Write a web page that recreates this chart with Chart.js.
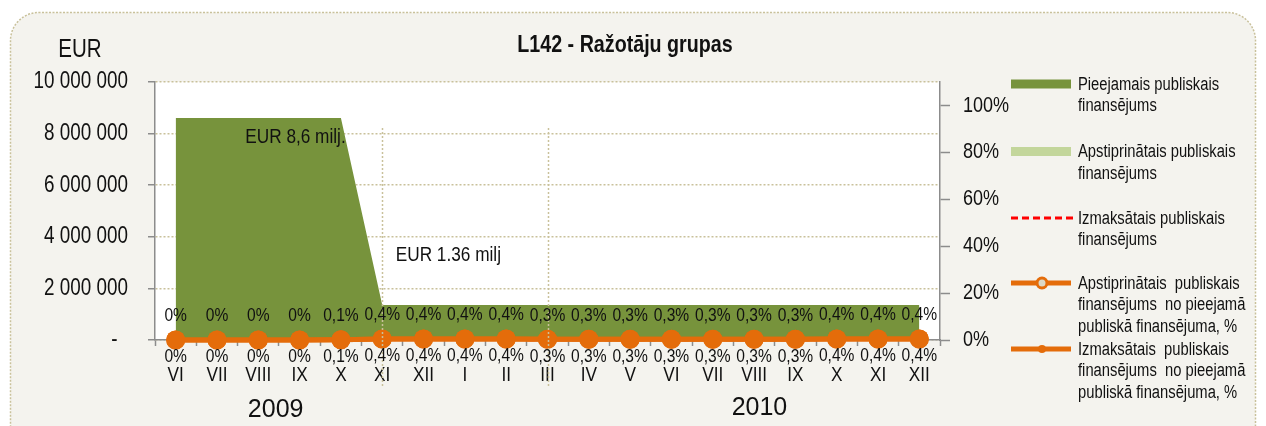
<!DOCTYPE html>
<html><head><meta charset="utf-8">
<script src="https://cdn.jsdelivr.net/npm/chart.js@4.4.1/dist/chart.umd.min.js"></script>
<style>html,body{margin:0;padding:0;background:#fff;}#wrap{width:1266px;height:426px;position:relative;}</style>
</head><body><div id="wrap"><canvas id="c" width="1266" height="426"></canvas></div>
<script>
const months = ['VI','VII','VIII','IX','X','XI','XII','I','II','III','IV','V','VI','VII','VIII','IX','X','XI','XII'];
const yearLabels = ['2009','2010'];
const available = [8600000,8600000,8600000,8600000,8600000,1360000,1360000,1360000,1360000,1360000,1360000,1360000,1360000,1360000,1360000,1360000,1360000,1360000,1360000];
const approvedEur = [0,0,0,0,8600,5400,5400,5400,5400,4100,4100,4100,4100,4100,4100,4100,5400,5400,5400];
const paidEur = [0,0,0,0,8600,5400,5400,5400,5400,4100,4100,4100,4100,4100,4100,4100,5400,5400,5400];
const approvedPct = [0,0,0,0,0.1,0.4,0.4,0.4,0.4,0.3,0.3,0.3,0.3,0.3,0.3,0.3,0.4,0.4,0.4];
const paidPct = [0,0,0,0,0.1,0.4,0.4,0.4,0.4,0.3,0.3,0.3,0.3,0.3,0.3,0.3,0.4,0.4,0.4];
const leftTicks = [0,2000000,4000000,6000000,8000000,10000000];
const rightTicks = [0,20,40,60,80,100];
const seriesNames = [
  'Pieejamais publiskais finansējums',
  'Apstiprinātais publiskais finansējums',
  'Izmaksātais publiskais finansējums',
  'Apstiprinātais  publiskais finansējums  no pieejamā publiskā finansējuma, %',
  'Izmaksātais  publiskais finansējums  no pieejamā publiskā finansējuma, %'
];
const titleText = 'L142 - Ražotāju grupas';
const unitText = 'EUR';
const noteHigh = 'EUR 8,6 milj.';
const noteLow = 'EUR 1.36 milj';

const NARROW = "'Liberation Sans Narrow','Arial Narrow','Liberation Sans',Arial,sans-serif";
const REG = "'Liberation Sans',Arial,sans-serif";
const GREEN = '#77933c', LGREEN = '#c3d69b', RED = '#ff0000', ORANGE = '#e46c0a';
const AXIS = '#8c8c8c', GRID = '#c9c19b', PANEL = '#f4f3ee', TXT = '#111';

// If no narrow face is installed, render the "Narrow" family condensed horizontally.
const SQ = 0.82;
const squeeze = (() => {
  const t = document.createElement('canvas').getContext('2d');
  t.font = "20px 'Liberation Sans Narrow', monospace"; const a = t.measureText('abcdefghijklm').width;
  t.font = "20px monospace"; const b = t.measureText('abcdefghijklm').width;
  return Math.abs(a - b) < 0.01;
})();
if (squeeze) {
  const P = CanvasRenderingContext2D.prototype;
  const of = P.fillText, om = P.measureText;
  P.fillText = function(t, x, y, mw){
    if (/Narrow/.test(this.font)) { this.save(); this.translate(x, y); this.scale(SQ, 1); of.call(this, t, 0, 0); this.restore(); }
    else of.call(this, t, x, y, mw);
  };
  P.measureText = function(t){
    const m = om.call(this, t);
    if (!/Narrow/.test(this.font)) return m;
    return { width: m.width * SQ, actualBoundingBoxAscent: m.actualBoundingBoxAscent, actualBoundingBoxDescent: m.actualBoundingBoxDescent,
      actualBoundingBoxLeft: m.actualBoundingBoxLeft * SQ, actualBoundingBoxRight: m.actualBoundingBoxRight * SQ,
      fontBoundingBoxAscent: m.fontBoundingBoxAscent, fontBoundingBoxDescent: m.fontBoundingBoxDescent };
  };
}

function fmtEur(v){ return v === 0 ? '-  ' : String(v).replace(/\B(?=(\d{3})+(?!\d))/g, ' '); }
function fmtPct(v){ return v === 0 ? '0%' : v.toFixed(1).replace('.', ',') + '%'; }

const deco = {
  id: 'deco',
  beforeDraw(chart){
    const ctx = chart.ctx, a = chart.chartArea;
    ctx.save();
    ctx.fillStyle = '#fff';
    ctx.fillRect(0,0,chart.width,chart.height);
    ctx.beginPath();
    ctx.roundRect(10.5,12.5,1245,440,28);
    ctx.fillStyle = PANEL; ctx.fill();
    ctx.setLineDash([2,1.5]); ctx.lineWidth = 1.5; ctx.strokeStyle = GRID; ctx.stroke();
    ctx.setLineDash([]);
    ctx.fillStyle = '#fff';
    ctx.fillRect(a.left, a.top, a.right - a.left, a.bottom - a.top);
    ctx.restore();
  },
  afterDatasetsDraw(chart){
    const ctx = chart.ctx, x = chart.scales.x, y = chart.scales.y;
    ctx.save();
    ctx.strokeStyle = GRID; ctx.lineWidth = 1.5; ctx.setLineDash([2,2]);
    [5, 9].forEach(i => {
      const px = Math.round(x.getPixelForValue(i)) + 0.5;
      ctx.beginPath(); ctx.moveTo(px, 128); ctx.lineTo(px, 388); ctx.stroke();
    });
    ctx.setLineDash([]);
    ctx.fillStyle = TXT; ctx.font = '19px ' + NARROW; ctx.textAlign = 'center'; ctx.textBaseline = 'middle';
    [[3, -24], [4, 17]].forEach(([di, off]) => {
      const meta = chart.getDatasetMeta(di);
      const vals = chart.data.datasets[di].data;
      meta.data.forEach((pt, i) => { ctx.fillText(fmtPct(vals[i]), pt.x, pt.y + off); });
    });
    ctx.font = '21px ' + NARROW;
    ctx.fillText(noteHigh, x.getPixelForValue(2.9), y.getPixelForValue(available[0]) + 19);
    ctx.fillText(noteLow, x.getPixelForValue(6.6), y.getPixelForValue(available[5]) - 50);
    ctx.restore();
  },
  afterDraw(chart){
    const ctx = chart.ctx, x = chart.scales.x;
    ctx.save();
    ctx.fillStyle = TXT; ctx.textBaseline = 'middle'; ctx.textAlign = 'center';
    ctx.font = 'bold 24px ' + NARROW;
    ctx.fillText(titleText, 625, 45);
    ctx.font = '25px ' + NARROW;
    ctx.fillText(unitText, 80, 50);
    ctx.font = '25px ' + REG;
    ctx.fillText(yearLabels[0], x.getPixelForValue(2.42), 410);
    ctx.fillText(yearLabels[1], x.getPixelForValue(14.13), 408);
    const sx0 = 1011, sx1 = 1071, tx = 1078;
    const ys = [84, 151.5, 218, 283, 349];
    ctx.font = '18px ' + NARROW; ctx.textAlign = 'left';
    seriesNames.forEach((name, k) => {
      const yy = ys[k];
      if (k === 0 || k === 1) {
        ctx.fillStyle = k === 0 ? GREEN : LGREEN;
        ctx.fillRect(sx0, yy - 4.5, sx1 - sx0, 9);
      } else if (k === 2) {
        ctx.strokeStyle = RED; ctx.lineWidth = 3; ctx.setLineDash([7,4]);
        ctx.beginPath(); ctx.moveTo(sx0, yy); ctx.lineTo(sx1 + 2, yy); ctx.stroke(); ctx.setLineDash([]);
      } else {
        ctx.strokeStyle = ORANGE; ctx.lineWidth = 5;
        ctx.beginPath(); ctx.moveTo(sx0, yy); ctx.lineTo(sx1, yy); ctx.stroke();
        ctx.beginPath(); ctx.arc(1042, yy, k === 3 ? 5 : 4, 0, Math.PI*2);
        if (k === 3) { ctx.fillStyle = '#ddd8c6'; ctx.fill(); ctx.lineWidth = 3; ctx.stroke(); }
        else { ctx.fillStyle = ORANGE; ctx.fill(); }
      }
      ctx.fillStyle = TXT;
      const words = name.split(' ');
      const lines = []; let cur = '';
      words.forEach(w => {
        const test = cur === '' ? w : cur + ' ' + w;
        if (ctx.measureText(test).width > 178 && cur.trim() !== '') { lines.push(cur.trim()); cur = w; }
        else cur = test;
      });
      if (cur) lines.push(cur.trim());
      lines.forEach((ln, j) => ctx.fillText(ln, tx, yy + 1 + j * 21.5));
    });
    ctx.restore();
  }
};

new Chart(document.getElementById('c'), {
  type: 'line',
  data: {
    labels: months,
    datasets: [
      { label: seriesNames[0], data: available, yAxisID: 'y', fill: 'origin', backgroundColor: GREEN, borderWidth: 0, borderColor: GREEN, pointRadius: 0, tension: 0, order: 5 },
      { label: seriesNames[1], data: approvedEur, yAxisID: 'y', fill: 'origin', backgroundColor: LGREEN, borderWidth: 0, borderColor: LGREEN, pointRadius: 0, tension: 0, order: 4 },
      { label: seriesNames[2], data: paidEur, yAxisID: 'y', fill: false, borderColor: RED, borderWidth: 2.5, borderDash: [7,4], pointRadius: 0, tension: 0, order: 3, clip: false },
      { label: seriesNames[3], data: approvedPct, yAxisID: 'y1', fill: false, borderColor: ORANGE, borderWidth: 5, pointRadius: 9.5, pointBackgroundColor: ORANGE, pointBorderWidth: 0, tension: 0, order: 2, clip: false },
      { label: seriesNames[4], data: paidPct, yAxisID: 'y1', fill: false, borderColor: ORANGE, borderWidth: 5, pointRadius: 9.5, pointBackgroundColor: ORANGE, pointBorderWidth: 0, tension: 0, order: 1, clip: false }
    ]
  },
  options: {
    responsive: false, devicePixelRatio: 1, animation: false,
    layout: { padding: { top: 82, left: 0, right: 0, bottom: 0 } },
    plugins: { legend: { display: false }, tooltip: { enabled: false }, title: { display: false } },
    scales: {
      x: {
        type: 'category', offset: true,
        grid: { offset: true, drawOnChartArea: false, tickLength: 6, tickColor: AXIS, tickWidth: 1.5 },
        border: { color: AXIS, width: 1.5 },
        ticks: { color: TXT, font: { family: NARROW, size: 21 }, padding: 17, maxRotation: 0, autoSkip: false },
        afterFit: s => { s.height = 86; }
      },
      y: {
        position: 'left', min: 0, max: 10000000,
        afterBuildTicks: s => { s.ticks = leftTicks.map(v => ({ value: v })); },
        grid: { color: GRID, lineWidth: 1.5, tickLength: 7, tickColor: AXIS, tickWidth: 1.5 },
        border: { color: AXIS, width: 1.5, dash: [2,2] },
        ticks: { color: TXT, font: { family: NARROW, size: 23 }, padding: 20, callback: v => fmtEur(v) },
        afterFit: s => { s.width = 155; }
      },
      y1: {
        position: 'right', min: 0, max: 110,
        afterBuildTicks: s => { s.ticks = rightTicks.map(v => ({ value: v })); },
        grid: { drawOnChartArea: false, tickLength: 10, tickColor: AXIS, tickWidth: 1.5 },
        border: { color: AXIS, width: 1.5 },
        ticks: { color: TXT, font: { family: NARROW, size: 22 }, padding: 13, callback: v => v + '%' },
        afterFit: s => { s.width = 326; }
      }
    }
  },
  plugins: [deco]
});
</script></body></html>
